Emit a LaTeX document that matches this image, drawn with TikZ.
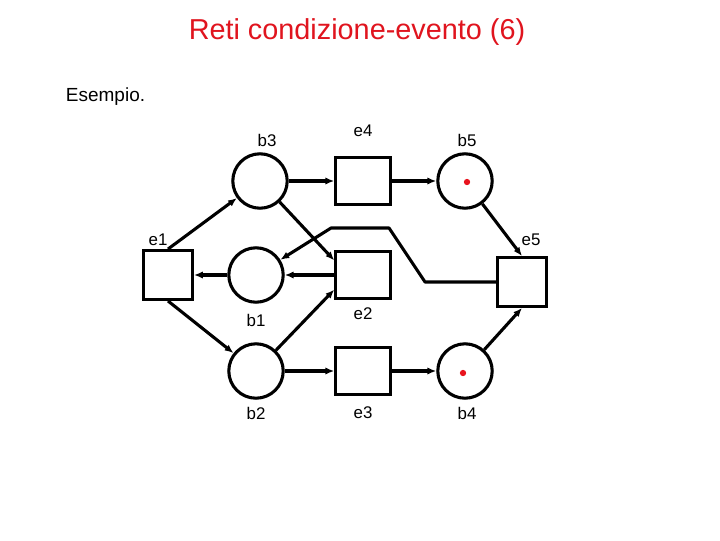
\documentclass[tikz,border=0pt]{standalone}
\usepackage{fontspec}
\setmainfont{Liberation Sans}
\usepackage{xcolor}
\usetikzlibrary{arrows.meta, calc}
\definecolor{titlered}{HTML}{E0141E}
\definecolor{tokenred}{HTML}{E8141E}

\begin{document}
\begin{tikzpicture}[
  x=0.025cm, y=-0.025cm,
  every node/.style={align=center},
  place/.style={circle, draw=black, line width=2.2pt, minimum size=1.36cm, inner sep=0pt},
  trans/.style={rectangle, draw=black, line width=2.2pt, minimum width=1.36cm, minimum height=1.18cm, inner sep=0pt},
  token/.style={circle, fill=tokenred, minimum size=4.5pt, inner sep=0pt},
  flow/.style={-{Latex[length=2.2mm, width=1.8mm]}, line width=2.2pt},
  lbl/.style={font=\fontsize{12}{14}\selectfont},
]
\useasboundingbox (0,0) rectangle (720,540);

\node[font=\fontsize{20.5}{24}\selectfont, text=titlered] (title) at (357,32) {Reti condizione-evento (6)};
\node[font=\fontsize{13.5}{16}\selectfont, anchor=west] (esempio) at (61,97) {Esempio.};

% conditions
\node[place] (b3) at (260,181) {};
\node[place] (b5) at (465,181) {};
\node[place] (b1) at (256,275) {};
\node[place] (b2) at (256,371) {};
\node[place] (b4) at (465,371) {};
% events
\node[trans] (e4) at (363,181) {};
\node[trans] (e2) at (363,275) {};
\node[trans] (e3) at (363,371) {};
\node[trans, minimum width=1.22cm, minimum height=1.22cm] (e1) at (168,275) {};
\node[trans, minimum width=1.22cm, minimum height=1.22cm] (e5) at (522,282) {};
% tokens
\node[token] (tk5) at (467,182) {};
\node[token] (tk4) at (463,373) {};

% labels
\node[lbl] (lb3) at (267,140) {b3};
\node[lbl] (le4) at (363,131) {e4};
\node[lbl] (lb5) at (467,140) {b5};
\node[lbl] (le1) at (158,240) {e1};
\node[lbl] (le5) at (531,240) {e5};
\node[lbl] (lb1) at (256,320) {b1};
\node[lbl] (le2) at (363,314) {e2};
\node[lbl] (lb2) at (256,413) {b2};
\node[lbl] (le3) at (363,413) {e3};
\node[lbl] (lb4) at (467,413) {b4};

% arcs
\draw[flow] (b3) -- (e4);
\draw[flow] (e4) -- (b5);
\draw[flow] (b5) -- (e5.north);
\draw[flow] (e1.north) -- (b3);
\draw[flow] (b3) -- (e2.153);
\draw[flow] (b1) -- (e1);
\draw[flow] (e2) -- (b1);
\draw[flow] (e1.south) -- (b2);
\draw[flow] (b2) -- (e2.207);
\draw[flow] (b2) -- (e3);
\draw[flow] (e3) -- (b4);
\draw[flow] (b4) -- (e5.south);
\draw[flow, line join=round] (e5.west) -- ++(-71,0) -- ++(-36,-54) -- ++(-58,0) -- (b1);
\end{tikzpicture}
\end{document}
